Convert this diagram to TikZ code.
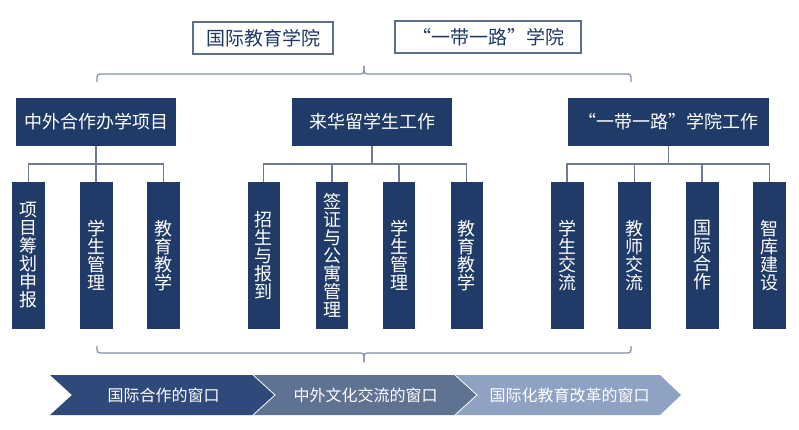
\documentclass[tikz,border=0pt]{standalone}
\usepackage{fontspec}
\newfontfamily\cjk{Noto Sans CJK SC}
\definecolor{navy}{HTML}{213B68}
\definecolor{navytext}{HTML}{1F3864}
\definecolor{topline}{HTML}{5E6D88}
\definecolor{connc}{HTML}{6E7B92}
\definecolor{bracec}{HTML}{8791A5}
\definecolor{chevA}{HTML}{2F4A7A}
\definecolor{chevB}{HTML}{5F7292}
\definecolor{chevC}{HTML}{8FA2C4}
\newcommand{\oq}{\makebox[1em][r]{“}}
\newcommand{\cq}{\makebox[1em][l]{”}}
\tikzset{
  topbox/.style={draw=topline, line width=1.2pt, fill=white, text=navytext,
    font=\cjk\fontsize{19}{19}\selectfont, minimum height=32pt, inner sep=0pt},
  headbox/.style={fill=navy, text=white, font=\cjk\fontsize{18}{18}\selectfont,
    minimum height=48pt, inner sep=0pt},
  subbox/.style={fill=navy, text=white, font=\cjk\fontsize{18}{18}\selectfont,
    minimum width=32pt, minimum height=147pt, align=center, inner sep=0pt},
  conn/.style={draw=connc, line width=1.3pt},
  brace/.style={draw=bracec, line width=1.3pt, rounded corners=3pt},
  chev/.style={draw=white, line width=0.8pt},
  chevtext/.style={text=white, font=\cjk\fontsize{16}{16}\selectfont, inner sep=0pt}
}
\begin{document}
\begin{tikzpicture}[x=1pt,y=-1pt]
\useasboundingbox[fill=white] (0,0) rectangle (799,430);

% top boxes
\node[topbox, minimum width=140pt] (t1) at (263,38) {国际教育学院};
\node[topbox, minimum width=186pt] (t2) at (488,37) {\oq 一带一路\cq 学院};

% top brace
\coordinate (bl) at (97,82);
\coordinate (bm) at (364,66);
\coordinate (br) at (631,82);
\draw[brace] (bl) -- (97,74) -- (364,74) -- (bm);
\draw[brace] (bm) -- (364,74) -- (631,74) -- (br);

% level 1
\node[headbox, minimum width=160pt] (A) at (96,122) {中外合作办学项目};
\node[headbox, minimum width=160pt] (B) at (372,122) {来华留学生工作};
\node[headbox, minimum width=201pt] (C) at (668.5,122) {\oq 一带一路\cq 学院工作};

% level 2
\node[subbox, minimum width=33pt] (a1) at (28.5,255.5) {项\\目\\筹\\划\\申\\报};
\node[subbox, minimum width=33pt] (a2) at (96,255.5) {学\\生\\管\\理};
\node[subbox, minimum width=33pt] (a3) at (163.5,255.5) {教\\育\\教\\学};

\node[subbox] (b1) at (263.5,255.5) {招\\生\\与\\报\\到};
\node[subbox] (b2) at (332,255.5) {签\\证\\与\\公\\寓\\管\\理};
\node[subbox] (b3) at (399,255.5) {学\\生\\管\\理};
\node[subbox] (b4) at (466.5,255.5) {教\\育\\教\\学};

\node[subbox, minimum width=33pt] (c1) at (567,255.5) {学\\生\\交\\流};
\node[subbox, minimum width=33pt] (c2) at (634.5,255.5) {教\\师\\交\\流};
\node[subbox, minimum width=33pt] (c3) at (702,255.5) {国\\际\\合\\作};
\node[subbox, minimum width=33pt] (c4) at (769.5,255.5) {智\\库\\建\\设};

% connectors
\coordinate (busA) at (96,164);
\coordinate (busB) at (372,164);
\coordinate (busC) at (668.5,164);
\draw[conn] (A.south) -- (busA);
\draw[conn] (B.south) -- (busB);
\draw[conn] (C.south) -- (busC);
\foreach \c in {a1,a2,a3} \draw[conn] (\c.north) |- (busA);
\foreach \c in {b1,b2,b3,b4} \draw[conn] (\c.north) |- (busB);
\foreach \c in {c1,c2,c3,c4} \draw[conn] (\c.north) |- (busC);

% bottom brace
\coordinate (dl) at (97,346);
\coordinate (dm) at (364,362);
\coordinate (dr) at (631,346);
\draw[brace] (dl) -- (97,353) -- (364,353) -- (dm);
\draw[brace] (dm) -- (364,353) -- (631,353) -- (dr);

% chevrons
\fill[chevC] (455,375) -- (660,375) -- (681,395) -- (660,415) -- (455,415) -- (477,395) -- cycle;
\fill[chevB] (253,375) -- (455,375) -- (477,395) -- (455,415) -- (253,415) -- (275,395) -- cycle;
\fill[chevA] (50,375) -- (253,375) -- (275,395) -- (253,415) -- (50,415) -- (72,395) -- cycle;
\draw[chev] (253,375) -- (275,395) -- (253,415);
\draw[chev] (455,375) -- (477,395) -- (455,415);
\node[chevtext] (w1) at (163.5,395) {国际合作的窗口};
\node[chevtext] (w2) at (365.5,395) {中外文化交流的窗口};
\node[chevtext] (w3) at (569.5,395) {国际化教育改革的窗口};
\end{tikzpicture}
\end{document}
